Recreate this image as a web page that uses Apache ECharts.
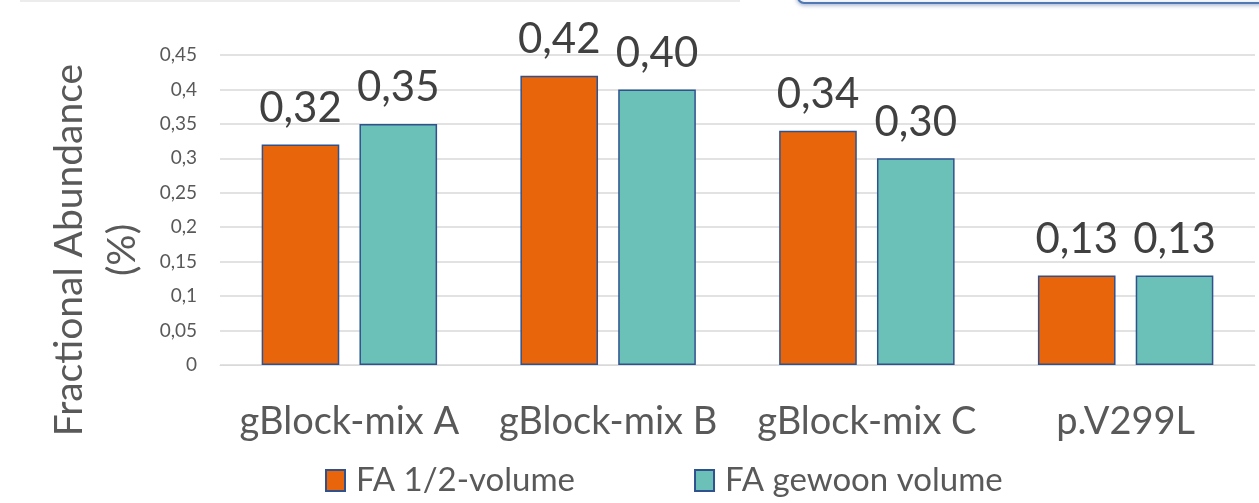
<!DOCTYPE html>
<html>
<head>
<meta charset="utf-8">
<script src="https://cdn.jsdelivr.net/npm/echarts@6/dist/echarts.min.js"></script>
<style>
  html, body { margin: 0; padding: 0; background: #ffffff; }
  #chart { width: 1259px; height: 503px; }
</style>
</head>
<body>
<div id="chart"></div>
<script>
// Samples on the category axis
const categories = ['gBlock-mix A', 'gBlock-mix B', 'gBlock-mix C', 'p.V299L'];

// Fractional abundance per sample (%)
const halfVolume = [0.32, 0.42, 0.34, 0.13];
const normalVolume = [0.35, 0.40, 0.30, 0.13];

const seriesNames = ['FA 1/2-volume', 'FA gewoon volume'];
const yAxisTitle = 'Fractional Abundance\n(%)';

const FONT = 'Lato, "Open Sans", sans-serif';
const fmtComma = (v, digits) => (digits == null ? String(v) : v.toFixed(digits)).replace('.', ',');

const chart = echarts.init(document.getElementById('chart'), null, { renderer: 'canvas' });

const barLabel = {
  show: true,
  position: 'top',
  distance: 15,
  fontFamily: FONT,
  fontSize: 42,
  color: '#404040',
  formatter: p => fmtComma(p.value, 2)
};

chart.setOption({
  animation: false,
  backgroundColor: '#ffffff',
  textStyle: { fontFamily: FONT },
  graphic: [
    { type: 'rect', shape: { x: 20, y: 0, width: 720, height: 2 }, style: { fill: '#ececec' } },
    { type: 'rect', shape: { x: 798, y: -12, width: 470, height: 15, r: 6 },
      style: { fill: '#ffffff', stroke: '#4f78b5', lineWidth: 2, shadowBlur: 4, shadowColor: 'rgba(80,110,160,0.5)', shadowOffsetY: 1 } }
  ],
  grid: { left: 220, right: 4, top: 55, bottom: 138, containLabel: false, outerBoundsMode: 'none' },
  legend: {
    bottom: 1,
    left: 320,
    itemWidth: 19,
    itemHeight: 21,
    itemGap: 119,
    icon: 'rect',
    textStyle: { fontFamily: FONT, fontSize: 33, color: '#595959', padding: [0, 0, 0, 6] },
    data: seriesNames
  },
  xAxis: {
    type: 'category',
    data: categories,
    axisLine: { show: true, lineStyle: { color: '#d9d9d9', width: 1 } },
    axisTick: { show: false },
    axisLabel: { interval: 0, fontFamily: FONT, fontSize: 38, color: '#595959', margin: 38 }
  },
  yAxis: {
    type: 'value',
    min: 0,
    max: 0.45,
    interval: 0.05,
    name: yAxisTitle,
    nameLocation: 'middle',
    nameGap: 68,
    nameRotate: 90,
    nameTextStyle: { fontFamily: FONT, fontSize: 39, color: '#595959', lineHeight: 53, padding: [0, 80, 0, 0] },
    axisLine: { show: false },
    axisTick: { show: false },
    splitLine: { lineStyle: { color: '#d9d9d9', width: 1.5 } },
    axisLabel: {
      fontFamily: FONT, fontSize: 19, color: '#595959', margin: 23,
      formatter: v => fmtComma(Math.round(v * 100) / 100)
    }
  },
  series: [
    {
      name: seriesNames[0],
      type: 'bar',
      data: halfVolume,
      barWidth: '30%',
      barGap: '26%',
      itemStyle: { color: '#e8650c', borderColor: '#2f528f', borderWidth: 1.5 },
      label: barLabel
    },
    {
      name: seriesNames[1],
      type: 'bar',
      data: normalVolume,
      barWidth: '30%',
      itemStyle: { color: '#6bc1b7', borderColor: '#2f528f', borderWidth: 1.5 },
      label: barLabel
    }
  ]
});
</script>
</body>
</html>
